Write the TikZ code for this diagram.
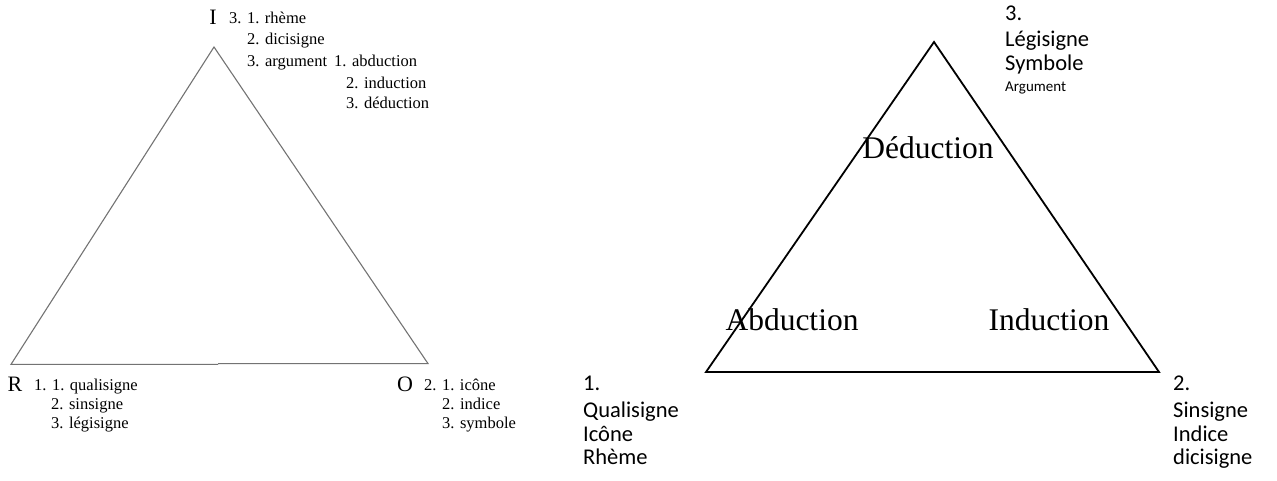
\documentclass[tikz,border=0pt]{standalone}
\usepackage{fontspec}
\setmainfont{Liberation Serif}
\newfontfamily\calib{Carlito}
\begin{document}
\begin{tikzpicture}[x=1pt,y=-1pt,
  ltri/.style={draw=black!55,line width=1.1pt},
  rtri/.style={draw=black,line width=1.8pt},
  vtx/.style={anchor=base,inner sep=0pt,font=\fontsize{22}{24}\selectfont},
  item/.style={anchor=base west,inner sep=0pt,font=\fontsize{16.5}{18}\selectfont},
  big/.style={inner sep=0pt,font=\fontsize{31.5}{36}\selectfont},
  lab/.style={anchor=base west,inner sep=0pt,font=\calib\fontsize{22.5}{24}\selectfont},
  labsmall/.style={anchor=base west,inner sep=0pt,font=\calib\fontsize{15}{18}\selectfont}]
\useasboundingbox (0,0) rectangle (1277,481);
% left triangle
\coordinate (LI) at (214,47);
\coordinate (LR) at (11,364.4);
\coordinate (LO) at (428,363.6);
\coordinate (LM1) at (218,364.4);
\coordinate (LM2) at (218,363.6);
\draw[ltri,line join=miter] (LM2) -- (LO) -- (LI) -- (LR) -- (LM1);
\node[vtx] (I) at (213,25) {I};
\node[item] (i1) at (229,24) {3. 1. rhème};
\node[item] (i2) at (247,45) {2. dicisigne};
\node[item] (i3) at (247,67) {3. argument};
\node[item] (a1) at (334,67) {1. abduction};
\node[item] (a2) at (346,89) {2. induction};
\node[item] (a3) at (346,109) {3. déduction};
\node[vtx] (R) at (15,391) {R};
\node[item] (r1) at (34,390) {1. 1. qualisigne};
\node[item] (r2) at (51,409) {2. sinsigne};
\node[item] (r3) at (51,428) {3. légisigne};
\node[vtx] (O) at (405,391) {O};
\node[item] (o1) at (424,390) {2. 1. icône};
\node[item] (o2) at (442,409) {2. indice};
\node[item] (o3) at (442,428) {3. symbole};
% right triangle
\coordinate (T3) at (934,42);
\coordinate (T1) at (706,372);
\coordinate (T2) at (1159,372);
\draw[rtri] (T3) -- (T2) -- (T1) -- cycle;
\node[big] (ded) at (928,148) {Déduction};
\node[big] (abd) at (792,320) {Abduction};
\node[big] (ind) at (1049,320) {Induction};
\node[lab] (n3) at (1005,21) {3.};
\node[lab] (n3a) at (1005,47) {Légisigne};
\node[lab] (n3b) at (1005,71) {Symbole};
\node[labsmall] (n3c) at (1005,92) {Argument};
\node[lab] (n1) at (583,390) {1.};
\node[lab] (n1a) at (583,417) {Qualisigne};
\node[lab] (n1b) at (583,441) {Icône};
\node[lab] (n1c) at (583,464) {Rhème};
\node[lab] (n2) at (1173,390) {2.};
\node[lab] (n2a) at (1173,417) {Sinsigne};
\node[lab] (n2b) at (1173,441) {Indice};
\node[lab] (n2c) at (1173,464) {dicisigne};
\end{tikzpicture}
\end{document}
